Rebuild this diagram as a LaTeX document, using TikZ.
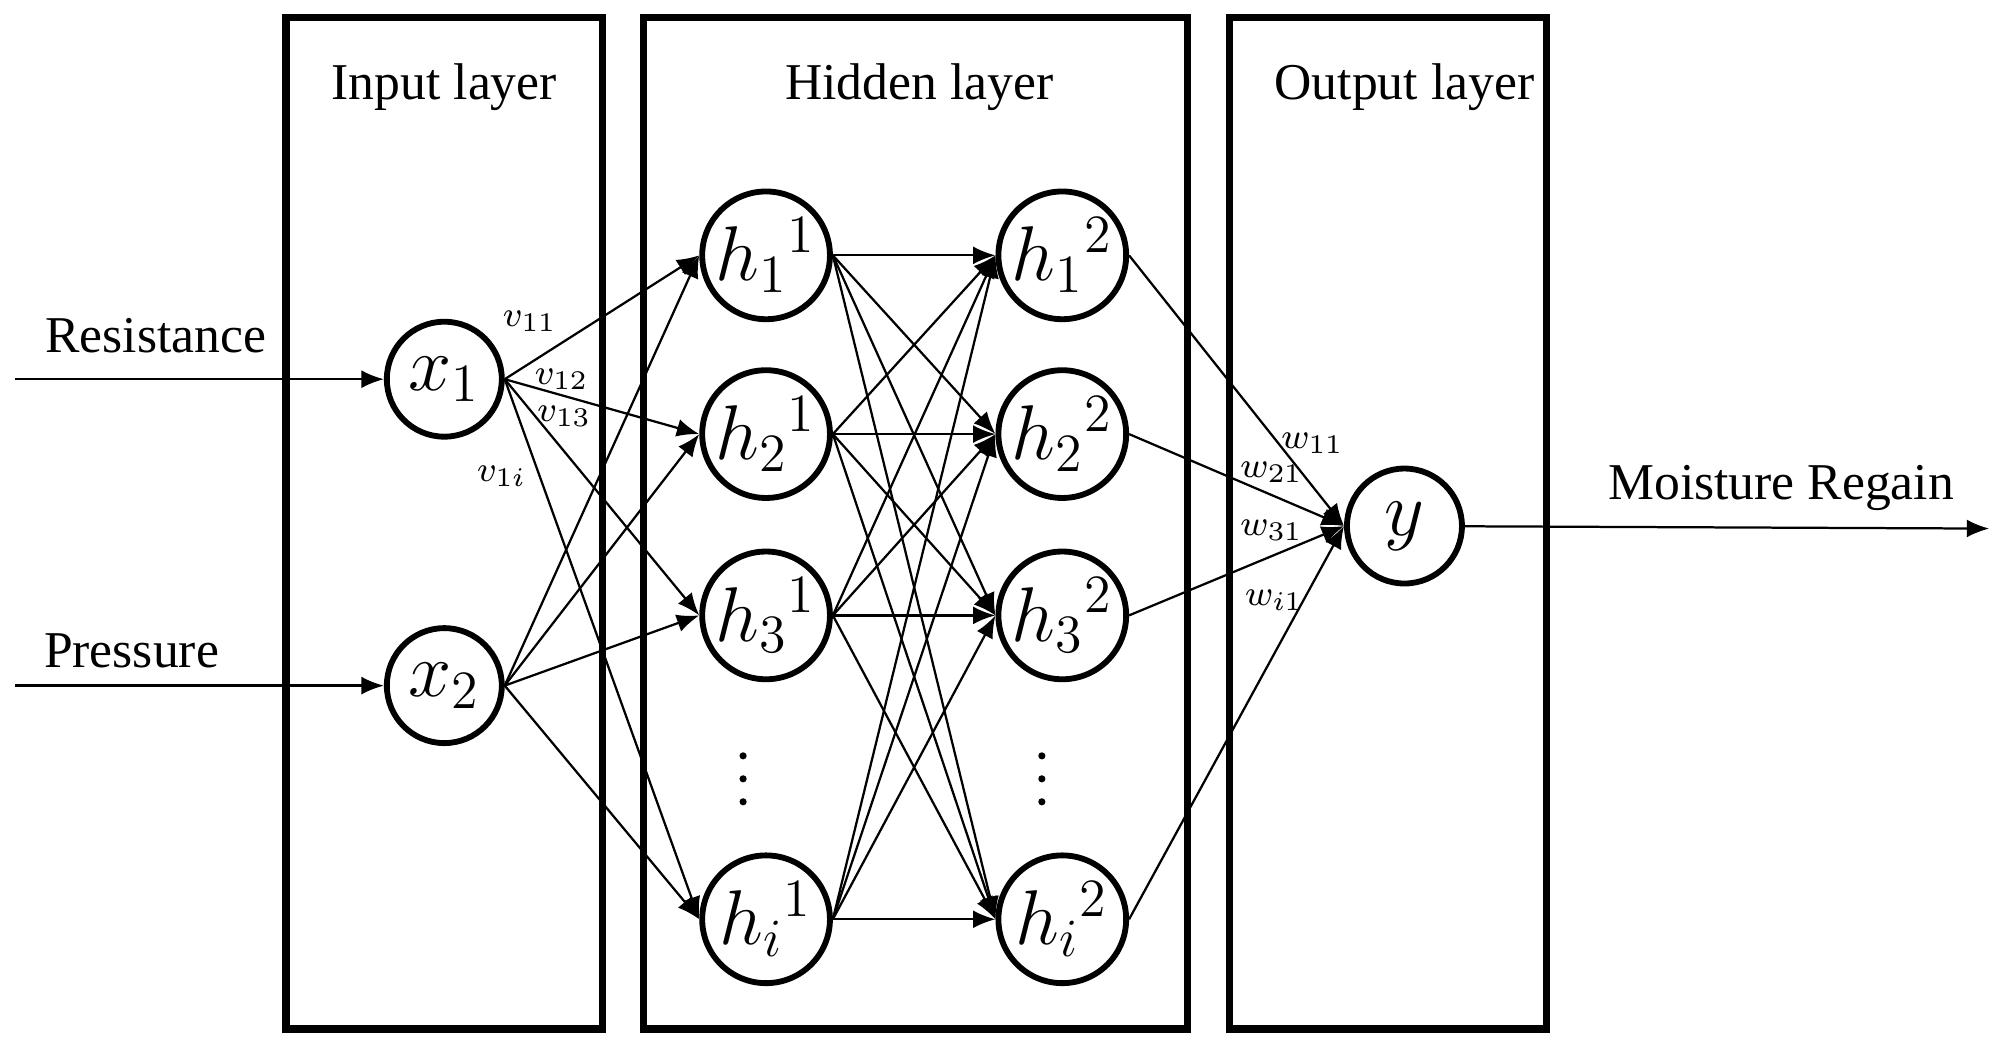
\documentclass[tikz,border=0pt]{standalone}
\usepackage{fontspec}
\setmainfont{Liberation Serif}
\usetikzlibrary{arrows.meta}
\begin{document}
\begin{tikzpicture}[x=0.01cm,y=-0.01cm,
  lay/.style={draw,line width=1.6pt},
  neu/.style={circle,draw,line width=1.3pt,minimum size=0.9cm,inner sep=0pt,font=\fontsize{17}{19}\selectfont},
  hneu/.style={neu,minimum size=1.0cm},
  con/.style={-{Latex[length=5pt,width=4pt]},line width=0.5pt},
  ttl/.style={font=\fontsize{11.5}{14}\selectfont},
  wl/.style={font=\fontsize{8.5}{10}\selectfont,inner sep=0pt}]
\useasboundingbox (0,0) rectangle (1568,828);
\draw[lay] (224,14) rectangle (472,806);
\draw[lay] (504,14) rectangle (930,806);
\draw[lay] (963,14) rectangle (1211,806);
\node[ttl] (t1) at (348,68) {Input layer};
\node[ttl] (t2) at (720,68) {Hidden layer};
\node[ttl] (t3) at (1100,68) {Output layer};
\node[neu] (x1) at (348,297) {$x_1$};
\node[neu] (x2) at (348,537) {$x_2$};
\foreach \n/\yy/\s in {1/200/1,2/340/2,3/482/3,4/720/i}{
  \node[hneu] (a\n) at (600,\yy) {$h_{\s}{}^{1}$};
  \node[hneu] (b\n) at (832,\yy) {$h_{\s}{}^{2}$};
}
\foreach \k in {592,610,628}{
  \fill (582,\k) circle (0.8pt);
  \fill (816,\k) circle (0.8pt);
}
\node[neu] (y) at (1100,412) {$y$};
\coordinate (r0) at (12,297);
\coordinate (p0) at (12,537);
\coordinate (m0) at (1558,414);
\node[ttl] (rl) at (122,263) {Resistance};
\node[ttl] (pl) at (103,510) {Pressure};
\node[ttl] (ml) at (1395,382) {Moisture Regain};
\draw[con] (r0) -- (x1);
\draw[con] (p0) -- (x2);
\draw[con] (y) -- (m0);
\foreach \i in {1,2}{\foreach \j in {1,2,3,4}{\draw[con] (x\i.east) -- (a\j.west);}}
\foreach \i in {1,2,3,4}{\foreach \j in {1,2,3,4}{\draw[con] (a\i.east) -- (b\j.west);}}
\foreach \j in {1,2,3,4}{\draw[con] (b\j.east) -- (y.west);}
\node[wl] (v11) at (415,252) {$v_{11}$};
\node[wl] (v12) at (440,297) {$v_{12}$};
\node[wl] (v13) at (442,326) {$v_{13}$};
\node[wl] (v1i) at (393,373) {$v_{1i}$};
\node[wl] (w11) at (1028,347) {$w_{11}$};
\node[wl] (w21) at (996,370) {$w_{21}$};
\node[wl] (w31) at (996,415) {$w_{31}$};
\node[wl] (wi1) at (998,470) {$w_{i1}$};
\end{tikzpicture}
\end{document}
